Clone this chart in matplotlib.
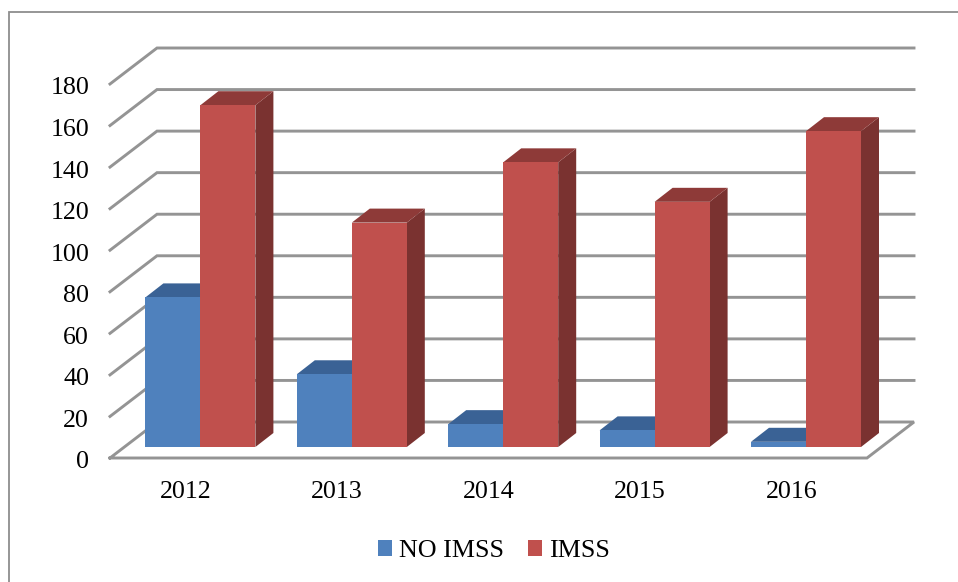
import matplotlib
matplotlib.use("Agg")
import matplotlib.pyplot as plt
from matplotlib.lines import Line2D
from matplotlib.patches import Patch
from matplotlib.transforms import ScaledTranslation

years = ["2012", "2013", "2014", "2015", "2016"]
no_imss = [72, 35, 11, 8, 2.5]
imss = [164.5, 108, 137, 118, 152]
y_ticks = [0, 20, 40, 60, 80, 100, 120, 140, 160, 180]

BLUE = ("#4F81BD", "#3A6295", "#34577F")
RED = ("#C0504D", "#8E3A38", "#7A3230")
GRID = "#8E8E8E"

plt.rcParams["font.family"] = ["Liberation Serif", "DejaVu Serif"]

W, H = 958, 582
fig = plt.figure(figsize=(W / 100, H / 100), dpi=100)
ax = fig.add_axes([110 / W, (H - 458) / H, 757 / W, 374 / H])
ax.set_xlim(0, 5)
ax.set_ylim(0, 180)

# pixel sizes turned into data units
ux = 5 / 757
uy = 180 / 374
wall_x, wall_y = 47 * ux, 36 * uy
shift_x, shift_y = 14.7 * ux, 11 * uy
depth_x, depth_y = 18 * ux, 14 * uy
bar_w = 55 * ux

# walls and floor
for t in y_ticks:
    if t == 0:
        xs = [0.0, 5, 5 + wall_x, wall_x, 0]
        ys = [0, 0, wall_y, wall_y, 0]
    else:
        xs = [0, wall_x, 5 + wall_x]
        ys = [t, t + wall_y, t + wall_y]
    ax.plot(xs, ys, color=GRID, lw=2.1, clip_on=False, zorder=1,
            solid_joinstyle="miter", alpha=0.95)


def draw_bar(left, value, colors, z):
    x0 = left + shift_x
    x1 = x0 + bar_w
    y0 = shift_y
    y1 = shift_y + value
    # right side, top, then front
    ax.fill([x1, x1 + depth_x, x1 + depth_x, x1],
            [y0, y0 + depth_y, y1 + depth_y, y1],
            color=colors[2], lw=0, clip_on=False, zorder=z)
    ax.fill([x0, x1, x1 + depth_x, x0 + depth_x],
            [y1, y1, y1 + depth_y, y1 + depth_y],
            color=colors[1], lw=0, clip_on=False, zorder=z)
    ax.bar(x0, value, bar_w, bottom=y0, align="edge", color=colors[0], lw=0,
           clip_on=False, zorder=z + 0.1)


for i in range(len(years)):
    center = i + 0.5
    draw_bar(center - bar_w, no_imss[i], BLUE, 2 + i)
    draw_bar(center, imss[i], RED, 2.5 + i)

ax.set_xticks([i + 0.5 for i in range(len(years))], years)
ax.set_yticks(y_ticks)
ax.tick_params(axis="both", length=0, labelsize=18.7, labelcolor="black")
ax.tick_params(axis="y", pad=15)
ax.tick_params(axis="x", pad=16.5)
# labels sit about 2 px lower than matplotlib centres them
nudge = ScaledTranslation(0, -2 / 100, fig.dpi_scale_trans)
for lab in ax.get_yticklabels():
    lab.set_transform(lab.get_transform() + nudge)
for s in ax.spines.values():
    s.set_visible(False)
ax.patch.set_visible(False)

handles = [Patch(color=BLUE[0], lw=0), Patch(color=RED[0], lw=0)]
fig.legend(handles, ["NO IMSS", "IMSS"], loc="center",
           bbox_to_anchor=(494 / W, (H - 551) / H), ncol=2, frameon=False,
           fontsize=18.7, handlelength=0.54, handleheight=0.54,
           handletextpad=0.25, columnspacing=0.95, borderpad=0)

# outer frame of the picture, runs off right and bottom
frame_x = 9 / W
frame_y = (H - 12) / H
fig.add_artist(Line2D([frame_x, frame_x, 1], [0, frame_y, frame_y],
                      color=GRID, lw=1.3, solid_joinstyle="miter"))

fig.savefig("out.png", dpi=100)
